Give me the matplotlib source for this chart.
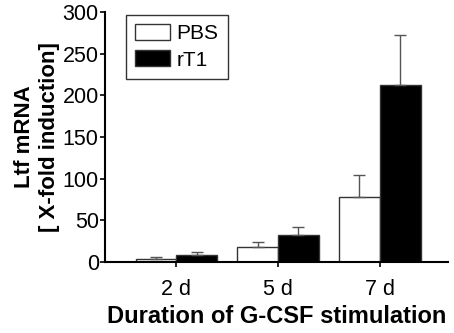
import numpy as np
import matplotlib.pyplot as plt

plt.rcParams["font.family"] = ["Liberation Sans", "DejaVu Sans"]

# Data
days = ["2 d", "5 d", "7 d"]
pbs = [4, 18, 78]
pbs_err = [1.5, 6.5, 26]
rt1 = [9, 33, 212]
rt1_err = [3.5, 9.5, 61]

x = np.arange(len(days))
w = 0.4

fig = plt.figure(figsize=(4.54, 3.33), dpi=100)
ax = fig.add_axes([105 / 454, 1 - 262 / 333, (448 - 105) / 454, 250 / 333])

err_kw = dict(ecolor="#555555", elinewidth=1.0, capsize=4.5, capthick=1.0)
ax.bar(x - w / 2, pbs, w, color="white", edgecolor="#333333", linewidth=1.0,
       yerr=[np.zeros(3), pbs_err], error_kw=err_kw, label="PBS")
ax.bar(x + w / 2, rt1, w, color="black", edgecolor="#333333", linewidth=1.0,
       yerr=[np.zeros(3), rt1_err], error_kw=err_kw, label="rT1")

ax.set_xlim(-0.7, 2.67)
ax.set_ylim(0, 300)
ax.set_yticks(range(0, 301, 50))
ax.set_xticks(x)
ax.set_xticklabels(days)
ax.tick_params(axis="both", labelsize=15.5, length=3.5, width=1.2, direction="out", pad=1)
ax.tick_params(axis="x", pad=9)

for s in ["top", "right"]:
    ax.spines[s].set_visible(False)
for s in ["left", "bottom"]:
    ax.spines[s].set_linewidth(1.5)

ax.set_xlabel("Duration of G-CSF stimulation", fontsize=17, fontweight="bold", labelpad=3)
ax.set_ylabel("Ltf mRNA\n[ X-fold induction]", fontsize=16, fontweight="bold", labelpad=2,
              linespacing=1.25)

leg = ax.legend(loc="upper left", bbox_to_anchor=(0.06, 0.99), fontsize=15, frameon=True,
                fancybox=False, edgecolor="black", handlelength=1.7, handleheight=0.8,
                handletextpad=0.3, borderpad=0.45, labelspacing=0.35, borderaxespad=0)
leg.get_frame().set_linewidth(1.0)

fig.savefig("out.png", dpi=100)
